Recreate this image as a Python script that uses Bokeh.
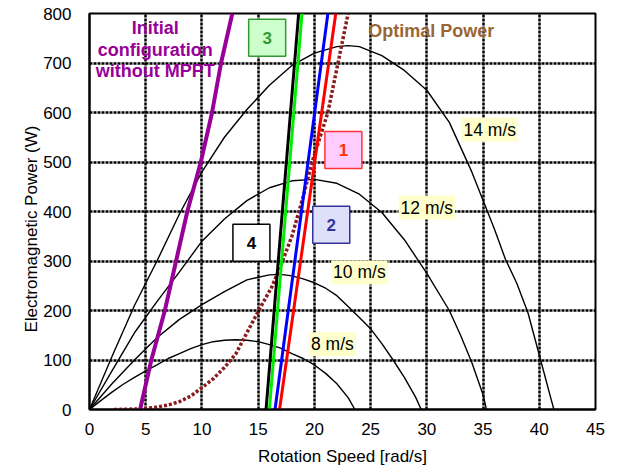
from bokeh.plotting import figure
from bokeh.models import Range1d, Label, FixedTicker, Title
from bokeh.embed import file_html
from bokeh.resources import INLINE
from bokeh.core.properties import value

# ---------------- data ----------------
x_ticks = [0, 5, 10, 15, 20, 25, 30, 35, 40, 45]
y_ticks = [0, 100, 200, 300, 400, 500, 600, 700, 800]

ws8_x = [0, 1, 2, 3, 4, 5, 6, 7, 8, 9, 10, 11, 12, 13, 14, 15, 16, 17, 18, 19, 20, 21, 22, 23, 23.6]
ws8_y = [0, 18, 35, 51, 65, 78, 90, 103, 113, 123, 131, 137, 140, 141, 140, 137, 131, 124, 113, 103, 90, 73, 52, 24, 0]

ws10_x = [0, 2, 4, 6, 8, 10, 12, 14, 16, 17, 18, 19, 20, 21, 22, 23, 24, 25, 26, 27, 28, 29, 29.5]
ws10_y = [0, 52, 100, 145, 182, 212, 238, 262, 272, 273, 270, 264, 256, 245, 230, 208, 186, 163, 133, 100, 65, 25, 0]

ws12_x = [0, 2, 4, 6, 8, 10, 12, 14, 16, 18, 20, 22, 24, 26, 28, 30, 32, 33, 34, 35, 35.3]
ws12_y = [0, 78, 155, 218, 278, 340, 385, 422, 448, 462, 465, 457, 435, 398, 343, 275, 200, 150, 95, 30, 0]

ws14_x = [0, 2, 4, 6, 8, 10, 12, 14, 16, 18, 20, 22, 23, 24, 26, 28, 30, 32, 34, 36, 37, 38, 39, 40, 41, 41.3]
ws14_y = [0, 107, 210, 300, 395, 480, 550, 606, 655, 695, 720, 733, 735, 733, 715, 685, 645, 580, 480, 365, 303, 255, 195, 110, 25, 0]

no_mppt_x = [4.5, 5.5, 6.7, 7.7, 8.7, 9.9, 10.9, 11.7, 12.7]
no_mppt_y = [0, 100, 200, 300, 400, 500, 600, 700, 800]

optimal_x = [2.2, 4, 5, 6, 7, 8, 9, 10, 11, 12, 13, 14, 15, 16.2, 17, 18, 19, 19.8, 20.5, 21.2, 22.1, 23]
optimal_y = [0, 1, 2, 5, 9, 16, 27, 44, 62, 85, 112, 155, 198, 247, 290, 350, 430, 500, 550, 600, 700, 800]

line1_x = [16.9, 21.9]   # red
line1_y = [0, 800]
line2_x = [16.5, 21.2]   # blue
line2_y = [0, 800]
line3_x = [16.0, 18.9]   # green
line3_y = [0, 800]
line4_x = [15.7, 18.6]   # black
line4_y = [0, 800]

wind_labels = ["14 m/s", "12 m/s", "10 m/s", "8 m/s"]
box_labels = ["1", "2", "3", "4"]

FONT = "Liberation Sans"

p = figure(width=611, height=468, output_backend="svg", toolbar_location=None,
           x_range=Range1d(0, 45), y_range=Range1d(0, 800),
           min_border_left=89, min_border_right=16, min_border_top=13, min_border_bottom=56)
p.background_fill_color = "white"
p.border_fill_color = "white"
p.outline_line_color = "black"
p.outline_line_width = 2

for ax in (p.xaxis, p.yaxis):
    ax.axis_line_color = "black"
    ax.axis_line_width = 2
    ax.major_tick_line_color = None
    ax.minor_tick_line_color = None
    ax.major_label_text_font = FONT
    ax.major_label_text_font_size = "17px"
    ax.major_label_text_color = "black"
    ax.axis_label_text_font = FONT
    ax.axis_label_text_font_size = "17px"
    ax.axis_label_text_font_style = "normal"
    ax.axis_label_text_color = "black"

p.xaxis.ticker = FixedTicker(ticks=x_ticks)
p.yaxis.ticker = FixedTicker(ticks=y_ticks)
p.xaxis.axis_label = "Rotation Speed [rad/s]"
p.xaxis.major_label_standoff = 7
p.yaxis.major_label_standoff = 12
p.xaxis.axis_label_standoff = 9

# y-axis title (sits a little below the frame centre in the reference)
p.add_layout(Title(text="Electromagnetic Power (W)", align="left", offset=77,
                   text_font=FONT, text_font_size="17px", text_font_style="normal",
                   text_color="black", standoff=0), "left")

for g in (p.xgrid, p.ygrid):
    g.grid_line_color = "black"
    g.grid_line_width = 2.5
    g.grid_line_dash = "3 1"

# wind speed curves
for xs, ys in ((ws8_x, ws8_y), (ws10_x, ws10_y), (ws12_x, ws12_y), (ws14_x, ws14_y)):
    p.line(xs, ys, line_color="black", line_width=1.4)

# optimal power
p.line(optimal_x, optimal_y, line_color="#8B1A1A", line_width=3.5, line_dash="3 2")

# operating lines
p.line(line4_x, line4_y, line_color="black", line_width=3)
p.line(line3_x, line3_y, line_color="#00EE00", line_width=3)
p.line(line2_x, line2_y, line_color="#0000FF", line_width=3)
p.line(line1_x, line1_y, line_color="#FF0000", line_width=3)

# initial configuration
p.line(no_mppt_x, no_mppt_y, line_color="#990099", line_width=4)

# wind labels
for txt, (lx, ly) in zip(wind_labels, [(35.6, 565), (30.0, 408), (24.0, 277), (21.6, 132)]):
    p.add_layout(Label(x=lx, y=ly, text=txt, text_align="center", text_baseline="middle",
                       text_font=FONT, text_font_size="17.5px", text_color="black",
                       background_fill_color="#FFFFCC", padding=2))

# numbered boxes
box_pos = [(22.58, 524), (21.5, 373), (15.8, 751), (14.4, 337)]
box_fill = ["#FFCCFF", "#DDE0F8", "#CCFFCC", "white"]
box_line = ["#FF3333", "#333399", "#339933", "black"]
box_text = ["#FF3300", "#333399", "#339933", "black"]
for t, (bx, by), f, lc, tc in zip(box_labels, box_pos, box_fill, box_line, box_text):
    p.rect([bx], [by], width=37, height=37, width_units="screen", height_units="screen",
           fill_color=f, line_color=lc, line_width=1.5)
    p.text([bx], [by], text=[t], text_align="center", text_baseline="middle",
           text_font=value(FONT), text_font_size="17px", text_font_style="bold", text_color=tc)

# text annotations
for t, ly in zip(["Initial", "configuration", "without MPPT"], [771, 727, 683]):
    p.add_layout(Label(x=5.85, y=ly, text=t, text_align="center", text_baseline="middle",
                       text_font=FONT, text_font_size="18px", text_font_style="bold",
                       text_color="#990099"))
p.add_layout(Label(x=30.4, y=764, text="Optimal Power", text_align="center", text_baseline="middle",
                   text_font=FONT, text_font_size="18px", text_font_style="bold",
                   text_color="#996633"))

open("out.html", "w").write(file_html(p, INLINE))
